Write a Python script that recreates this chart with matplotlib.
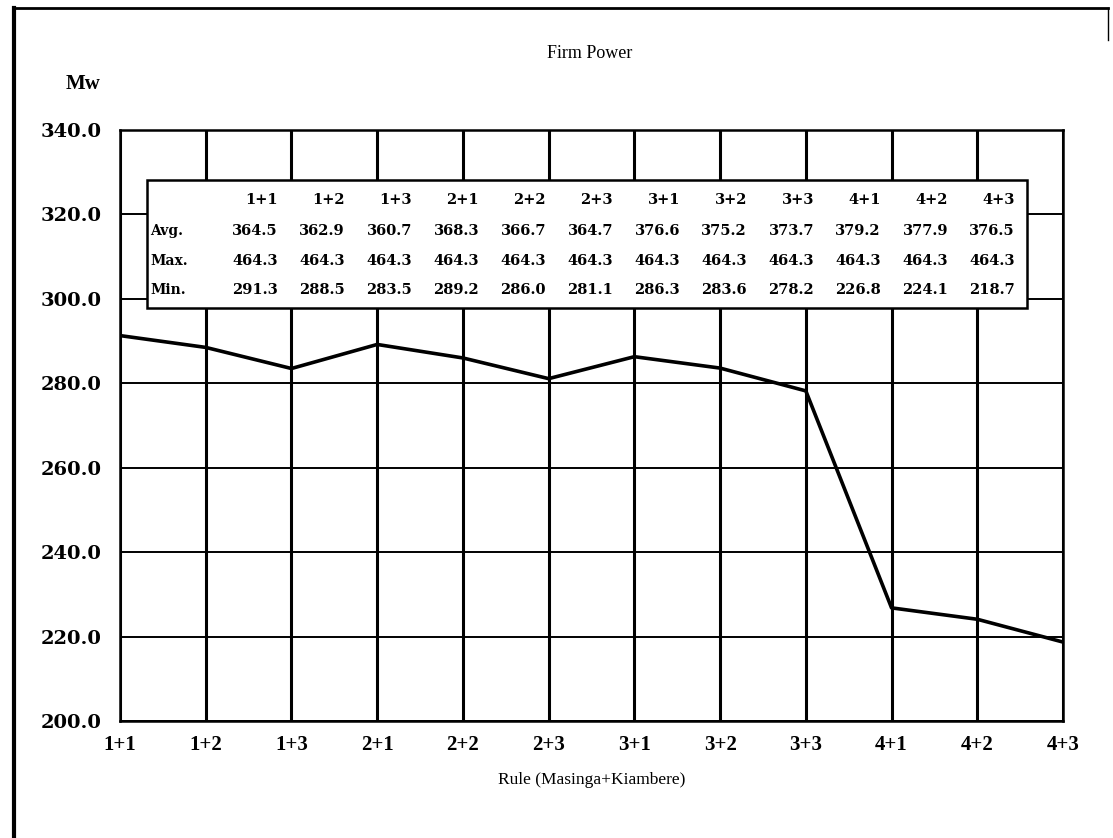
import matplotlib
matplotlib.use("Agg")
import matplotlib.pyplot as plt
from matplotlib.patches import Rectangle
from matplotlib.lines import Line2D

rules = ["1+1", "1+2", "1+3", "2+1", "2+2", "2+3", "3+1", "3+2", "3+3", "4+1", "4+2", "4+3"]
avg_vals = [364.5, 362.9, 360.7, 368.3, 366.7, 364.7, 376.6, 375.2, 373.7, 379.2, 377.9, 376.5]
max_vals = [464.3] * 12
min_vals = [291.3, 288.5, 283.5, 289.2, 286.0, 281.1, 286.3, 283.6, 278.2, 226.8, 224.1, 218.7]
yticks = [200, 220, 240, 260, 280, 300, 320, 340]

plt.rcParams['font.family'] = ['Liberation Serif', 'DejaVu Serif']
WIDE = ['DejaVu Serif']

W, H = 1113, 838
fig = plt.figure(figsize=(W / 100, H / 100), dpi=100)

# outer frame (left, top, right)
fig.add_artist(Line2D([14 / W, 14 / W], [0, 1 - 8 / H], color='black', lw=3, transform=fig.transFigure))
fig.add_artist(Line2D([14 / W, 1108 / W], [1 - 8 / H, 1 - 8 / H], color='black', lw=2, transform=fig.transFigure))
fig.add_artist(Line2D([1108 / W, 1108 / W], [1 - 8 / H, 1 - 40 / H], color='black', lw=1, transform=fig.transFigure))

ax = fig.add_axes([120 / W, 1 - 721 / H, (1063 - 120) / W, (721 - 130) / H])
x = list(range(len(rules)))
ax.plot(x, min_vals, color='black', lw=2.6, zorder=3)

ax.set_xlim(0, len(rules) - 1)
ax.set_ylim(200, 340)
ax.set_xticks(x)
ax.set_xticklabels(rules, fontsize=15, fontweight='bold')
ax.set_yticks(yticks)
ax.set_yticklabels([f"{v:.1f}" for v in yticks], fontsize=14, fontweight='bold', family=WIDE)
ax.tick_params(axis='both', length=0)
ax.tick_params(axis='y', pad=13)
ax.tick_params(axis='x', pad=10)
for xv in x:
    ax.axvline(xv, color='black', lw=2.2, zorder=1)
for yv in yticks:
    ax.axhline(yv, color='black', lw=1.4, zorder=1)
for s in ax.spines.values():
    s.set_linewidth(1.8)

ax.set_xlabel("Rule (Masinga+Kiambere)", fontsize=12.5, labelpad=12)
fig.text(590 / W, 1 - 54 / H, "Firm Power", ha='center', va='center', fontsize=13)
fig.text(100 / W, 1 - 84 / H, "Mw", ha='right', va='center', fontsize=15, fontweight='bold')

# data table inside the plot
aw = 1063 - 120
ah = 721 - 130
def fx(px):
    return (px - 120) / aw
def fy(py):
    return (721 - py) / ah

ax.add_patch(Rectangle((fx(147), fy(308)), fx(1027) - fx(147), fy(180) - fy(308),
                       transform=ax.transAxes, facecolor='white', edgecolor='black', lw=1.8, zorder=4))
rows = [("", rules, 200), ("Avg.", [f"{v:.1f}" for v in avg_vals], 231),
        ("Max.", [f"{v:.1f}" for v in max_vals], 261), ("Min.", [f"{v:.1f}" for v in min_vals], 290)]
for label, vals, py in rows:
    if label:
        ax.text(fx(150), fy(py), label, transform=ax.transAxes, ha='left', va='center',
                fontsize=10, fontweight='bold', family=WIDE, zorder=5)
    for k, v in enumerate(vals):
        ax.text(fx(278 + 67 * k), fy(py), v, transform=ax.transAxes, ha='right', va='center',
                fontsize=10.5, fontweight='bold', family=WIDE, zorder=5)

fig.savefig("out.png", dpi=100)
